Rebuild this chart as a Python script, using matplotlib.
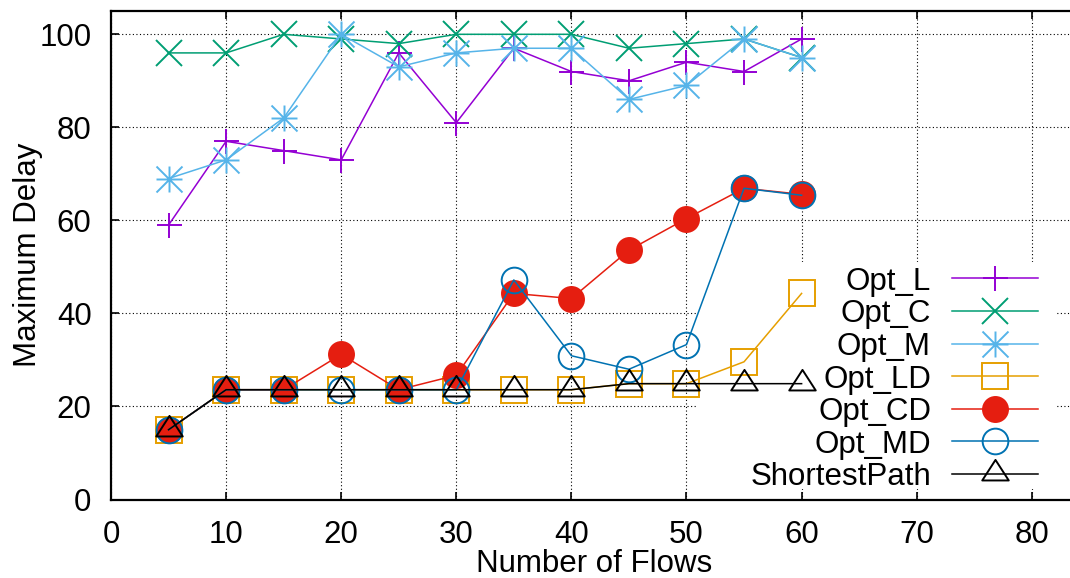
import matplotlib
matplotlib.use("Agg")
import matplotlib.pyplot as plt
from matplotlib.path import Path
from matplotlib.lines import Line2D
from matplotlib.patches import Rectangle

# ---- data -------------------------------------------------------------
flows = [5, 10, 15, 20, 25, 30, 35, 40, 45, 50, 55, 60]

opt_l = [59, 77, 75, 73, 96, 81, 97, 92, 90, 94, 92, 99]
opt_c = [96, 96, 100, 99, 98, 100, 100, 100, 97, 98, 99, 95]
opt_m = [69, 73, 82, 100, 93, 96, 97, 97, 86, 89, 99, 95]
opt_ld = [15, 23.6, 23.6, 23.6, 23.6, 23.6, 23.6, 23.6, 24.9, 24.9, 29.6, 44.3]
opt_cd = [15, 23.6, 23.6, 31.2, 23.6, 26.7, 44.3, 43.2, 53.6, 60.4, 66.9, 65.6]
opt_md = [15, 23.6, 23.6, 23.6, 23.6, 23.6, 47.2, 30.9, 28.0, 33.3, 66.9, 65.4]
shortest_path = [15, 23.6, 23.6, 23.6, 23.6, 23.6, 23.6, 23.6, 24.9, 24.9, 24.9, 24.9]

series_names = ["Opt_L", "Opt_C", "Opt_M", "Opt_LD", "Opt_CD", "Opt_MD", "ShortestPath"]
series_values = [opt_l, opt_c, opt_m, opt_ld, opt_cd, opt_md, shortest_path]

x_ticks = [0, 10, 20, 30, 40, 50, 60, 70, 80]
y_ticks = [0, 20, 40, 60, 80, 100]

# ---- styling ----------------------------------------------------------
FONT = "Liberation Sans"
FS = 22.5
plt.rcParams["font.family"] = [FONT, "DejaVu Sans"]
plt.rcParams["font.size"] = FS

# gnuplot-like asterisk (plus and cross overlaid) and flattened triangle
asterisk = Path(
    [(-1, 0), (1, 0), (0, -1), (0, 1), (-1, -1), (1, 1), (-1, 1), (1, -1)],
    [Path.MOVETO, Path.LINETO] * 4,
)
triangle = Path(
    [(0, 1.10), (-1, -0.45), (1, -0.45), (0, 1.10)],
    [Path.MOVETO, Path.LINETO, Path.LINETO, Path.CLOSEPOLY],
)

styles = [
    dict(color="#9400D3", marker="+", ms=18, mfc="none"),
    dict(color="#009E73", marker="x", ms=18.5, mfc="none"),
    dict(color="#56B4E9", marker=asterisk, ms=18.7, mfc="none"),
    dict(color="#E69F00", marker="s", ms=18.5, mfc="none"),
    dict(color="#E51E10", marker="o", ms=18, mfc="#E51E10"),
    dict(color="#0072B2", marker="o", ms=18.5, mfc="none"),
    dict(color="black", marker=triangle, ms=21, mfc="none"),
]

W, H = 1070, 578
fig = plt.figure(figsize=(W / 100, H / 100), dpi=100)

x0_px, y0_px = 111, 499.5
px_per_x, px_per_y = 11.51, 4.652
xmax, ymax = 84, 105
ax = fig.add_axes([x0_px / W, (H - y0_px) / H,
                   xmax * px_per_x / W, ymax * px_per_y / H])

ax.set_xlim(0, xmax)
ax.set_ylim(0, ymax)
ax.set_xticks(x_ticks)
ax.set_yticks(y_ticks)
ax.set_axisbelow(True)
ax.grid(True, color="black", linestyle=(0, (1, 2.2)), linewidth=0.8)
ax.tick_params(direction="in", top=True, right=True, length=6, width=1.2,
               labelsize=FS)
ax.tick_params(axis="x", pad=15)
ax.tick_params(axis="y", pad=14)
for s in ax.spines.values():
    s.set_linewidth(1.6)

for name, vals, st in zip(series_names, series_values, styles):
    ax.plot(flows, vals, color=st["color"], lw=1.1, marker=st["marker"],
            ms=st["ms"], mfc=st["mfc"], mec=st["color"], mew=1.4,
            label=name, clip_on=False, zorder=2)

ax.set_xlabel("Number of Flows", fontsize=FS)
ax.xaxis.set_label_coords(0.5, -0.1013)
ax.set_ylabel("Maximum Delay", fontsize=FS)
ax.yaxis.set_label_coords(-0.070, 0.5)


# ---- key: right-aligned labels, samples on the right, opaque backdrop --
def fx(px):
    return px / W


def fy(py):
    return 1 - py / H


# backdrop sits above the grid (axis zorder 0.5) and below the data lines
ax.add_patch(Rectangle((fx(698), fy(489)), fx(1057) - fx(698), fy(262) - fy(489),
                       transform=fig.transFigure, facecolor="white",
                       edgecolor="none", zorder=0.8, clip_on=False))

row0, row_step = 278.3, 32.6
text_right = 931
line_l, line_r = 952, 1038
for i, (name, st) in enumerate(zip(series_names, styles)):
    yr = row0 + i * row_step
    fig.text(fx(text_right), fy(yr + 11.5), name, ha="right", va="baseline",
             fontsize=FS)
    fig.add_artist(Line2D([fx(line_l), fx(line_r)], [fy(yr), fy(yr)],
                          transform=fig.transFigure, color=st["color"], lw=1.1))
    fig.add_artist(Line2D([fx((line_l + line_r) / 2)], [fy(yr)],
                          transform=fig.transFigure, color=st["color"],
                          marker=st["marker"], ms=st["ms"], mfc=st["mfc"],
                          mec=st["color"], mew=1.4, lw=0))

fig.savefig("out.png", dpi=100)
